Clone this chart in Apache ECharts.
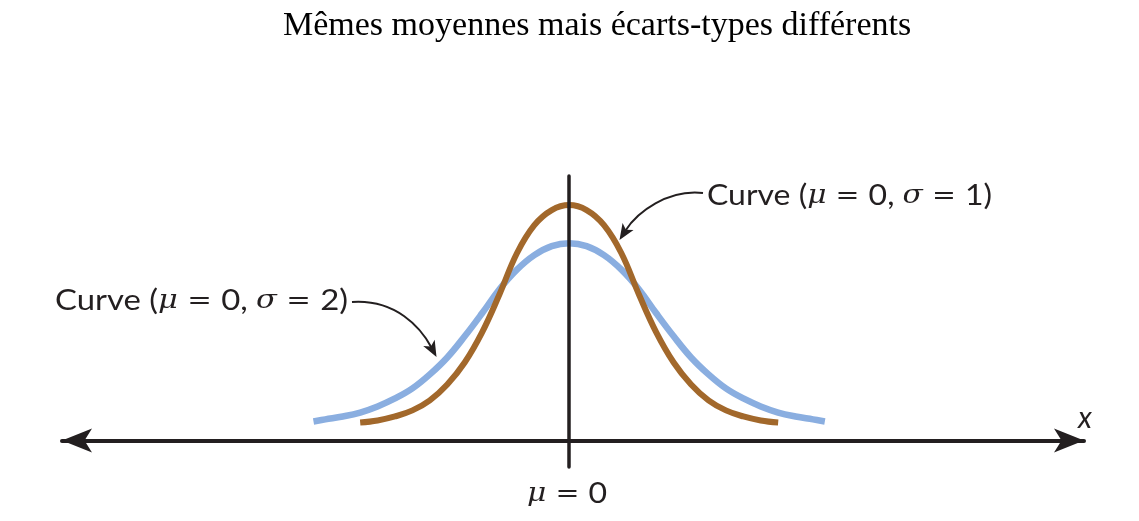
<!DOCTYPE html>
<html><head><meta charset="utf-8">
<script src="https://cdn.jsdelivr.net/npm/echarts@6/dist/echarts.min.js"></script>
<style>html,body{margin:0;padding:0;background:#fff}#c{width:1139px;height:521px}</style>
</head><body><div id="c"></div>
<script>
// ---- data (x in units of the narrow curve's sigma, y relative height) ----
const titleText = 'Mêmes moyennes mais écarts-types différents';
const brownX = [-3.00,-2.75,-2.50,-2.25,-2.00,-1.75,-1.50,-1.25,-1.00,-0.75,-0.50,-0.25,0,0.25,0.50,0.75,1.00,1.25,1.50,1.75,2.00,2.25,2.50,2.75,3.00];
const brownY = [0.068,0.076,0.091,0.114,0.152,0.212,0.295,0.409,0.553,0.708,0.814,0.871,0.890,0.871,0.814,0.708,0.553,0.409,0.295,0.212,0.152,0.114,0.091,0.076,0.068];
const blueX = [-3.67,-3.50,-3.25,-3.00,-2.75,-2.50,-2.25,-2.00,-1.75,-1.50,-1.25,-1.00,-0.75,-0.50,-0.25,0,0.25,0.50,0.75,1.00,1.25,1.50,1.75,2.00,2.25,2.50,2.75,3.00,3.25,3.50,3.67];
const blueY = [0.072,0.080,0.091,0.106,0.129,0.159,0.197,0.250,0.314,0.394,0.481,0.572,0.646,0.701,0.735,0.746,0.735,0.701,0.646,0.572,0.481,0.394,0.314,0.250,0.197,0.159,0.129,0.106,0.091,0.080,0.072];
const sigmaLabels = ['1', '2'];
const meanLabel = '0';
const axisName = 'x';

const ink = '#231f20';
const chart = echarts.init(document.getElementById('c'));

const fonts = {
  a: {fontFamily:'Lato', fontSize:28, fontStyle:'normal'},
  g: {fontFamily:'DejaVu Serif', fontSize:26, fontStyle:'italic'},
  e: {fontFamily:'DejaVu Sans', fontSize:25, fontStyle:'normal'}
};
const ctx = document.createElement('canvas').getContext('2d');
function measure(segs) {
  let w = 0;
  segs.forEach(([k, t]) => { const f = fonts[k]; ctx.font = f.fontStyle + ' ' + f.fontSize + 'px "' + f.fontFamily + '"'; w += ctx.measureText(t).width; });
  return w;
}
function richText(segs) { return segs.map(([k, t]) => '{' + k + '|' + t + '}').join(''); }
const rich = {};
Object.keys(fonts).forEach(k => { rich[k] = Object.assign({fill:ink, color:ink}, fonts[k]); });

const seg1 = [['a','Curve ('],['g','μ'],['e',' = '],['a','0, '],['g','σ'],['e',' = '],['a', sigmaLabels[0] + ')']];
const seg2 = [['a','Curve ('],['g','μ'],['e',' = '],['a','0, '],['g','σ'],['e',' = '],['a', sigmaLabels[1] + ')']];
const segM = [['g','μ'],['e',' = '],['a', meanLabel]];
const sx1 = 285 / measure(seg1);
const sx2 = 293 / measure(seg2);
const sxM = 80 / measure(segM);

ctx.font = '34px "Liberation Serif"';
const titleW = ctx.measureText(titleText).width;

function arrowHead(tx, ty, ux, uy, L, w, notch) {
  const nx = -uy, ny = ux;
  return [
    [tx, ty],
    [tx - L*ux + w*nx, ty - L*uy + w*ny],
    [tx - (L-notch)*ux, ty - (L-notch)*uy],
    [tx - L*ux - w*nx, ty - L*uy - w*ny]
  ];
}
function curvedArrow(sx0, sy0, c1x, c1y, tx, ty, ux, uy) {
  const n = Math.hypot(ux, uy); ux/=n; uy/=n;
  const ex = tx - 11*ux, ey = ty - 11*uy;
  return [
    {type:'bezierCurve', shape:{x1:sx0,y1:sy0,cpx1:c1x,cpy1:c1y,cpx2:ex-22*ux,cpy2:ey-22*uy,x2:ex,y2:ey},
     style:{stroke:ink, lineWidth:2, fill:null}, z:20},
    {type:'polygon', shape:{points:arrowHead(tx,ty,ux,uy,16,6.5,4)}, style:{fill:ink}, z:21}
  ];
}

const option = {
  animation:false,
  backgroundColor:'#fff',
  title:{text:titleText, left:Math.round(592 - titleW/2), top:4,
    textStyle:{fontFamily:'"Liberation Serif","Times New Roman",serif', fontSize:34, fontWeight:'normal', color:'#000'}},
  grid:{left:62, right:55, top:176, bottom:54},
  xAxis:{type:'value', min:-7.28, max:7.39,
    axisLine:{show:true, onZero:true, symbol:['arrow','arrow'], symbolSize:[18,30], lineStyle:{color:ink, width:4}},
    axisTick:{show:false}, axisLabel:{show:false}, splitLine:{show:false}},
  yAxis:{type:'value', min:-0.1, max:1.0, z:10,
    axisLine:{show:true, onZero:true, lineStyle:{color:ink, width:3.5}},
    axisTick:{show:false}, axisLabel:{show:false}, splitLine:{show:false}},
  series:[
    {type:'line', name:'σ = 2', data:blueX.map((x,i)=>[x,blueY[i]]), smooth:0.4, symbol:'none',
     lineStyle:{color:'#8aaee0', width:6.5}, z:2},
    {type:'line', name:'σ = 1', data:brownX.map((x,i)=>[x,brownY[i]]), smooth:0.4, symbol:'none',
     lineStyle:{color:'#a2682b', width:6}, z:3}
  ],
  graphic:[
    {type:'text', x:707, y:196, scaleX:sx1, style:{text:richText(seg1), rich:rich, verticalAlign:'middle', align:'left'}, z:20},
    {type:'text', x:55, y:301, scaleX:sx2, style:{text:richText(seg2), rich:rich, verticalAlign:'middle', align:'left'}, z:20},
    {type:'text', x:567, y:494, scaleX:sxM, style:{text:richText(segM), rich:rich, verticalAlign:'middle', align:'center'}, z:20},
    {type:'text', x:1085, y:418, style:{text:axisName, fontFamily:'Lato', fontStyle:'italic', fontSize:30, fill:ink, align:'center', verticalAlign:'middle'}, z:20},
    ...curvedArrow(703,193, 668,189, 619.5,240, -0.535,0.845),
    ...curvedArrow(352,302, 396,299, 436.5,357, 0.472,0.881)
  ]
};
chart.setOption(option);
</script>
</body></html>
